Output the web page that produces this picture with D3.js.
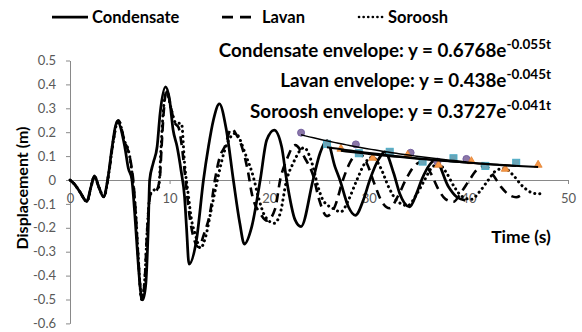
<!DOCTYPE html>
<html><head><meta charset="utf-8">
<script src="https://cdn.jsdelivr.net/npm/d3@7"></script>
<style>body{margin:0;background:#fff;} svg{display:block;font-family:Lato,"Open Sans",sans-serif;}</style>
</head><body>
<svg id="c" width="582" height="332"></svg>
<script>
// ---- data (time s, displacement m) ----
const condensate = [[0,0],[0.5,-0.02],[1.0,-0.05],[1.7,-0.09],[2.1,-0.03],[2.45,0.017],[2.9,-0.03],[3.35,-0.07],[3.85,0.02],[4.2,0.13],[4.75,0.244],[5.5,0.139],[5.85,0.05],[6.2,0.005],[6.5,-0.14],[6.85,-0.35],[7.1,-0.47],[7.3,-0.502],[7.6,-0.44],[7.85,-0.21],[8.0,0],[8.35,0.07],[8.75,0.14],[9.05,0.28],[9.6,0.39],[10.0,0.335],[10.35,0.21],[10.75,0.14],[11.15,0.04],[11.5,-0.07],[11.7,-0.2],[11.95,-0.352],[12.7,-0.25],[13.4,0],[13.9,0.139],[14.4,0.251],[15.0,0.318],[15.7,0.209],[16.4,0],[17.05,-0.181],[17.5,-0.268],[18.25,-0.195],[19.1,0],[19.75,0.167],[20.5,0.209],[21.25,0.139],[21.75,0],[22.6,-0.167],[23.2,-0.195],[24.4,0],[25.1,0.112],[25.8,0.165],[26.6,0.056],[27.1,0],[27.95,-0.112],[28.65,-0.148],[29.45,-0.084],[30.1,0],[30.95,0.084],[31.6,0.118],[32.5,0.028],[33.1,-0.056],[34.1,-0.112],[34.8,-0.056],[35.3,0],[36.7,0.082],[38.0,-0.028],[38.8,-0.07],[39.7,-0.085]];
const lavan = [[0,0],[0.5,-0.02],[1.0,-0.05],[1.7,-0.09],[2.1,-0.03],[2.45,0.015],[2.9,-0.03],[3.4,-0.07],[3.9,0.03],[4.3,0.15],[4.85,0.25],[5.5,0.16],[5.85,0.12],[6.2,0.05],[6.35,0],[6.6,-0.14],[6.85,-0.32],[7.2,-0.5],[7.5,-0.42],[7.75,-0.21],[8.1,-0.06],[8.6,-0.05],[9.0,0.0],[9.2,0.14],[9.4,0.28],[9.7,0.375],[10.1,0.31],[10.5,0.24],[10.9,0.22],[11.2,0.15],[11.6,0.0],[12.0,-0.15],[12.4,-0.24],[12.9,-0.28],[13.5,-0.22],[14.05,-0.14],[14.55,0],[15.05,0.098],[15.55,0.14],[16.2,0.215],[16.7,0.19],[17.25,0.14],[17.9,0.028],[18.25,-0.056],[19.1,-0.14],[19.8,-0.17],[20.6,-0.12],[21.1,0],[21.75,0.084],[22.6,0.146],[23.6,0.09],[24.4,0.02],[25.0,-0.08],[25.8,-0.151],[26.6,-0.11],[27.4,0],[28.2,0.08],[29.0,0.112],[29.8,0.07],[30.6,-0.02],[31.3,-0.09],[32.1,-0.118],[32.9,-0.07],[33.7,0.0],[34.6,0.06],[35.4,0.077],[36.2,0.03],[37.0,-0.04],[37.7,-0.08],[38.5,-0.091],[39.3,-0.05],[40.1,0.0],[40.9,0.045],[41.7,0.059],[42.5,0.02],[43.3,-0.03],[44.0,-0.06],[44.8,-0.072],[45.4,-0.06]];
const soroosh = [[0,0],[0.5,-0.02],[1.0,-0.05],[1.7,-0.09],[2.1,-0.03],[2.45,0.015],[2.9,-0.03],[3.4,-0.07],[3.9,0.03],[4.3,0.15],[4.85,0.25],[5.5,0.16],[5.85,0.126],[6.15,0.056],[6.3,0],[6.6,-0.14],[6.85,-0.32],[7.2,-0.5],[7.5,-0.42],[7.75,-0.21],[8.05,-0.06],[8.5,-0.04],[8.9,-0.03],[9.15,0.14],[9.35,0.28],[9.7,0.37],[10.2,0.29],[10.6,0.24],[11.2,0.235],[11.5,0.07],[11.9,-0.07],[12.2,-0.167],[12.55,-0.223],[13.1,-0.285],[13.6,-0.24],[14.2,-0.12],[14.8,0.0],[15.5,0.12],[16.6,0.195],[17.7,0.098],[18.4,0.014],[18.9,-0.07],[19.6,-0.153],[20.5,-0.181],[21.1,-0.14],[21.75,0],[22.4,0.07],[23.5,0.135],[24.3,0.07],[24.9,-0.028],[25.4,-0.084],[26.4,-0.119],[27.2,-0.133],[28.0,-0.08],[28.8,0.0],[29.6,0.07],[30.4,0.095],[31.2,0.05],[32.0,-0.03],[32.9,-0.09],[33.9,-0.107],[34.8,-0.06],[35.6,0.0],[36.3,0.05],[37.0,0.066],[37.8,0.03],[38.6,-0.03],[39.4,-0.07],[40.3,-0.081],[41.1,-0.05],[42.0,0.0],[42.8,0.04],[43.6,0.049],[44.5,0.02],[45.3,-0.02],[46.2,-0.05],[47.0,-0.058],[47.6,-0.053]];

// envelope points (absolute peak values)
const condensatePeaks = [[23.2,0.198],[28.7,0.149],[34.2,0.114],[36.9,0.077],[39.8,0.088]];
const lavanPeaks = [[25.8,0.151],[29.0,0.112],[32.1,0.118],[35.4,0.077],[38.5,0.091],[41.7,0.059],[44.8,0.072]];
const sorooshPeaks = [[27.2,0.133],[30.4,0.095],[33.9,0.107],[37.0,0.066],[40.3,0.081],[43.7,0.049],[47.0,0.066]];

// envelope fits y = a*e^(b t)
const envelopeNames = ["Condensate","Lavan","Soroosh"];
const envelopeA = [0.6768, 0.438, 0.3727];
const envelopeB = [-0.055, -0.045, -0.041];
const envelopeAText = ["0.6768","0.438","0.3727"];
const envelopeBText = ["-0.055t","-0.045t","-0.041t"];

const xTicks = [0,10,20,30,40,50];
const yTicks = [0.5,0.4,0.3,0.2,0.1,0,-0.1,-0.2,-0.3,-0.4,-0.5,-0.6];
const yTickLabels = ["0.5","0.4","0.3","0.2","0.1","0","-0.1","-0.2","-0.3","-0.4","-0.5","-0.6"];
const seriesNames = ["Condensate","Lavan","Soroosh"];

// ---- chart ----
const svg = d3.select("#c");
const x = d3.scaleLinear().domain([0,50]).range([70,568]);
const y = d3.scaleLinear().domain([-0.6,0.5]).range([323.4,60.5]);
const axisColor = "#898989", labelColor = "#595959";

// y axis
const ya = svg.append("g").attr("transform","translate(70,0)")
  .call(d3.axisLeft(y).tickValues(yTicks).tickSize(4).tickSizeOuter(0).tickPadding(10)
    .tickFormat((d,i)=>yTickLabels[i]));
// x axis at zero
const xa = svg.append("g").attr("transform",`translate(0,${y(0)})`)
  .call(d3.axisBottom(x).tickValues(xTicks).tickSize(4).tickSizeOuter(0).tickPadding(10));
[ya,xa].forEach(g=>{
  g.select(".domain").attr("stroke",axisColor).attr("stroke-width",1);
  g.selectAll(".tick line").attr("stroke",axisColor);
  g.selectAll(".tick text").attr("fill",labelColor).style("font-size","13px").style("font-family","Lato");
});

const line = d3.line().x(d=>x(d[0])).y(d=>y(d[1])).curve(d3.curveMonotoneX);
const styles = [
  {w:2.75, dash:null, cap:"butt"},
  {w:2.6, dash:"9,6", cap:"butt"},
  {w:3, dash:"0.1,5", cap:"round"}
];
[condensate,lavan,soroosh].forEach((s,i)=>{
  svg.append("path").datum(s).attr("d",line).attr("fill","none").attr("stroke","#000")
    .attr("stroke-width",styles[i].w).attr("stroke-dasharray",styles[i].dash)
    .attr("stroke-linecap",styles[i].cap).attr("stroke-linejoin","round");
});

// markers
svg.append("g").selectAll("circle").data(condensatePeaks).join("circle")
  .attr("cx",d=>x(d[0])).attr("cy",d=>y(d[1])).attr("r",3.5)
  .attr("fill","#8b77a8").attr("stroke","#7460a0").attr("stroke-width",1);
svg.append("g").selectAll("rect").data(lavanPeaks).join("rect")
  .attr("x",d=>x(d[0])-3.5).attr("y",d=>y(d[1])-3.5).attr("width",7).attr("height",7)
  .attr("fill","#6aa5b8").attr("stroke","#4bacc6").attr("stroke-width",1);
svg.append("g").selectAll("path").data(sorooshPeaks).join("path")
  .attr("d",d=>{const cx=x(d[0]),cy=y(d[1]);return `M${cx},${cy-4}L${cx+4},${cy+3}L${cx-4},${cy+3}Z`;})
  .attr("fill","#f79646").attr("stroke","#e08030").attr("stroke-width",0.8);

// trendlines
const peakSets=[condensatePeaks,lavanPeaks,sorooshPeaks];
peakSets.forEach((p,i)=>{
  const t0=p[0][0], t1=p[p.length-1][0];
  const pts=d3.range(0,41).map(k=>{const t=t0+(t1-t0)*k/40;return [t, envelopeA[i]*Math.exp(envelopeB[i]*t)];});
  svg.append("path").datum(pts).attr("d",d3.line().x(d=>x(d[0])).y(d=>y(d[1])))
    .attr("fill","none").attr("stroke","#000").attr("stroke-width",i===0?1.5:2);
});

// equations
const eqY=[57,87,118];
envelopeNames.forEach((n,i)=>{
  const t=svg.append("text").attr("x",551).attr("y",eqY[i]).attr("text-anchor","end")
    .style("font-weight","bold").style("font-size","18.8px").attr("fill","#000");
  t.append("tspan").text(`${n} envelope: y = ${envelopeAText[i]}e`);
  t.append("tspan").attr("dy",-8).style("font-size","13.5px").text(envelopeBText[i]);
});

// legend
const lg=svg.append("g");
lg.append("line").attr("x1",52).attr("x2",88).attr("y1",17).attr("y2",17).attr("stroke","#000").attr("stroke-width",2.75);
lg.append("line").attr("x1",222).attr("x2",251).attr("y1",17).attr("y2",17).attr("stroke","#000").attr("stroke-width",2.75).attr("stroke-dasharray","11,7");
lg.append("line").attr("x1",359).attr("x2",386).attr("y1",17).attr("y2",17).attr("stroke","#000").attr("stroke-width",2.6).attr("stroke-dasharray","0.1,4.5").attr("stroke-linecap","round");
const legX=[92,262,388];
seriesNames.forEach((n,i)=>{
  lg.append("text").attr("x",legX[i]).attr("y",23).text(n)
    .style("font-weight","bold").style("font-size","16.5px").attr("fill","#000");
});

// axis titles
svg.append("text").attr("transform","translate(28,188) rotate(-90)").attr("text-anchor","middle")
  .style("font-weight","bold").style("font-size","16px").text("Displacement (m)");
svg.append("text").attr("x",521).attr("y",243).attr("text-anchor","middle")
  .style("font-weight","bold").style("font-size","17.5px").text("Time (s)");
</script>
</body></html>
